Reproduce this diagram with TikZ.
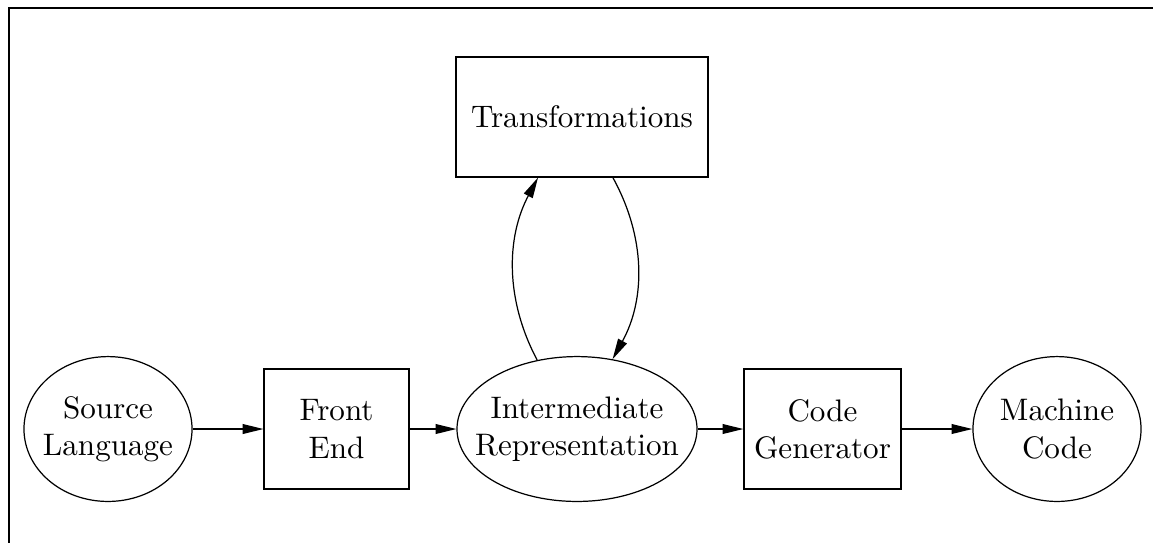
\documentclass[tikz,border=0pt]{standalone}
\usetikzlibrary{arrows.meta,shapes.geometric}

\tikzset{
  txt/.style={font=\fontsize{10.2pt}{12.2pt}\selectfont},
  stage/.style={draw, rectangle, inner sep=0pt, align=center, line width=0.4pt, txt},
  datum/.style={draw, ellipse, inner sep=0pt, line width=0.4pt},
  caption/.style={align=center, inner sep=0pt, txt},
  flow/.style={-{Triangle[length=6.8pt,width=3.2pt]}, line width=0.4pt},
  frame/.style={line width=0.75pt},
}

\begin{document}
\begin{tikzpicture}[x=0.3279pt, y=-0.3279pt]
  \useasboundingbox (0,0) rectangle (1153,542);

  % outer frame (only top and left edges fall inside the page)
  \coordinate (fbl) at (8.7,560);
  \coordinate (ftl) at (8.7,8);
  \coordinate (ftr) at (1170,8);
  \draw[frame] (fbl) -- (ftl) -- (ftr);

  % pipeline stages (ellipse text set as a centred label so the outline keeps its size)
  \node[datum, minimum width=55.1pt, minimum height=47.5pt,
        label={[caption]center:Source\\Language}] (src) at (108,429) {};
  \node[stage, minimum width=47.5pt, minimum height=39.3pt] (fe) at (336.5,429) {Front\\End};
  \node[datum, minimum width=78.7pt, minimum height=47.5pt,
        label={[caption]center:Intermediate\\Representation}] (ir) at (577,429) {};
  \node[stage, minimum width=51.5pt, minimum height=39.3pt] (cg) at (822.5,429) {Code\\Generator};
  \node[datum, minimum width=55.1pt, minimum height=47.5pt,
        label={[caption]center:Machine\\Code}] (mc) at (1057,429) {};
  \node[stage, minimum width=82.6pt, minimum height=39.3pt] (tr) at (582,117) {Transformations};

  % main flow
  \draw[flow] (src) -- (fe);
  \draw[flow] (fe) -- (ir);
  \draw[flow] (ir) -- (cg);
  \draw[flow] (cg) -- (mc);

  % optimisation loop
  \draw[flow] (ir.120) .. controls +(-32,-60) and +(-32,60) .. (tr.234);
  \draw[flow] (tr.297) .. controls +(33,60) and +(33,-60) .. (ir.63);
\end{tikzpicture}
\end{document}
